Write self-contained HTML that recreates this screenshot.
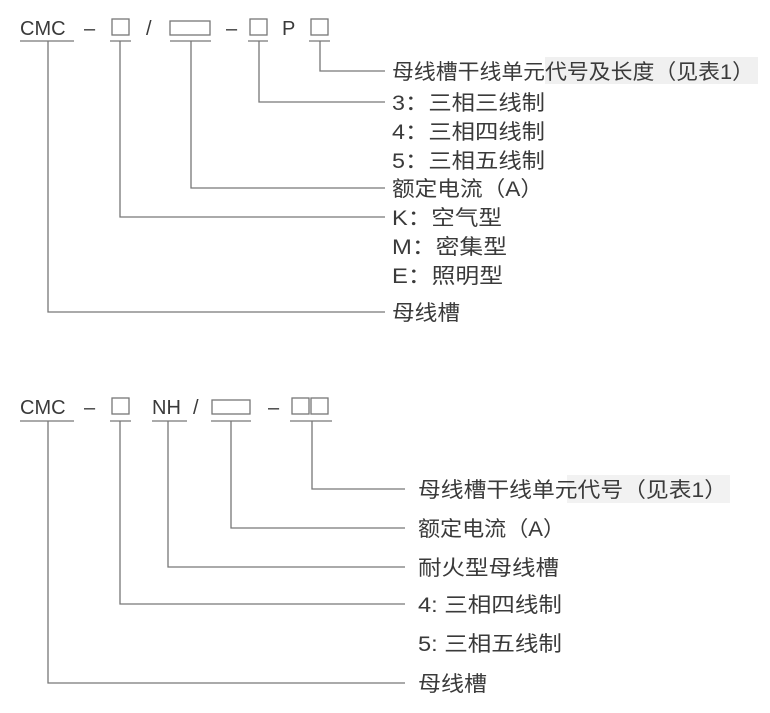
<!DOCTYPE html>
<html><head><meta charset="utf-8"><style>
html,body{margin:0;padding:0;background:#fff;}
svg{display:block;}
text{font-family:"Liberation Sans","Noto Sans CJK SC",sans-serif;fill:#3a3a3a;}
</style></head><body>
<svg width="770" height="713" viewBox="0 0 770 713">
<rect x="545" y="57" width="213" height="27" fill="#f0f0f0"/>
<rect x="567" y="475" width="163" height="28" fill="#f2f2f2"/>
<g stroke="#777" stroke-width="1.3" fill="none">
<line x1="20" y1="41" x2="74" y2="41"/>
<rect x="112" y="19" width="17" height="16"/>
<line x1="110" y1="41" x2="131" y2="41"/>
<rect x="170" y="21" width="40" height="14"/>
<line x1="170" y1="41" x2="211" y2="41"/>
<rect x="250" y="19" width="17" height="16"/>
<line x1="248" y1="41" x2="268" y2="41"/>
<rect x="311" y="19" width="17" height="16"/>
<line x1="309" y1="41" x2="330" y2="41"/>
<polyline points="320,41 320,71 385,71"/>
<polyline points="259,41 259,102 385,102"/>
<polyline points="191,41 191,188 385,188"/>
<polyline points="120,41 120,217 385,217"/>
<polyline points="48,41 48,312 385,312"/>
<line x1="20" y1="421" x2="74" y2="421"/>
<rect x="112" y="398" width="17" height="16"/>
<line x1="110" y1="421" x2="131" y2="421"/>
<line x1="152" y1="421" x2="187" y2="421"/>
<rect x="212" y="400" width="38" height="14"/>
<line x1="211" y1="421" x2="251" y2="421"/>
<rect x="292" y="398" width="17" height="16"/>
<rect x="311" y="398" width="17" height="16"/>
<line x1="290" y1="421" x2="332" y2="421"/>
<polyline points="312,421 312,489 405,489"/>
<polyline points="231,421 231,528 405,528"/>
<polyline points="168,421 168,567 405,567"/>
<polyline points="120,421 120,604 405,604"/>
<polyline points="48,421 48,683 405,683"/>
</g>
<g font-size="20">
<text x="20" y="35">CMC</text>
<text x="84" y="35">–</text>
<text x="146" y="35">/</text>
<text x="226" y="35">–</text>
<text x="282" y="35">P</text>
<text x="20" y="414">CMC</text>
<text x="84" y="414">–</text>
<text x="152" y="414">NH</text>
<text x="193" y="414">/</text>
<text x="268" y="414">–</text>
</g>
<g font-size="21">
<text x="392" y="79" textLength="362" lengthAdjust="spacingAndGlyphs">母线槽干线单元代号及长度（见表1）</text>
<text x="392" y="110" textLength="153" lengthAdjust="spacingAndGlyphs">3：三相三线制</text>
<text x="392" y="139" textLength="153" lengthAdjust="spacingAndGlyphs">4：三相四线制</text>
<text x="392" y="168" textLength="153" lengthAdjust="spacingAndGlyphs">5：三相五线制</text>
<text x="392" y="196" textLength="151" lengthAdjust="spacingAndGlyphs">额定电流（A）</text>
<text x="392" y="225" textLength="110" lengthAdjust="spacingAndGlyphs">K：空气型</text>
<text x="392" y="254" textLength="115" lengthAdjust="spacingAndGlyphs">M：密集型</text>
<text x="392" y="283" textLength="111" lengthAdjust="spacingAndGlyphs">E：照明型</text>
<text x="392" y="320" textLength="68" lengthAdjust="spacingAndGlyphs">母线槽</text>
<text x="418" y="497" textLength="309" lengthAdjust="spacingAndGlyphs">母线槽干线单元代号（见表1）</text>
<text x="418" y="536" textLength="147" lengthAdjust="spacingAndGlyphs">额定电流（A）</text>
<text x="418" y="575" textLength="141" lengthAdjust="spacingAndGlyphs">耐火型母线槽</text>
<text x="418" y="612" textLength="144" lengthAdjust="spacingAndGlyphs">4: 三相四线制</text>
<text x="418" y="651" textLength="144" lengthAdjust="spacingAndGlyphs">5: 三相五线制</text>
<text x="418" y="691" textLength="69" lengthAdjust="spacingAndGlyphs">母线槽</text>
</g>
</svg>
</body></html>
